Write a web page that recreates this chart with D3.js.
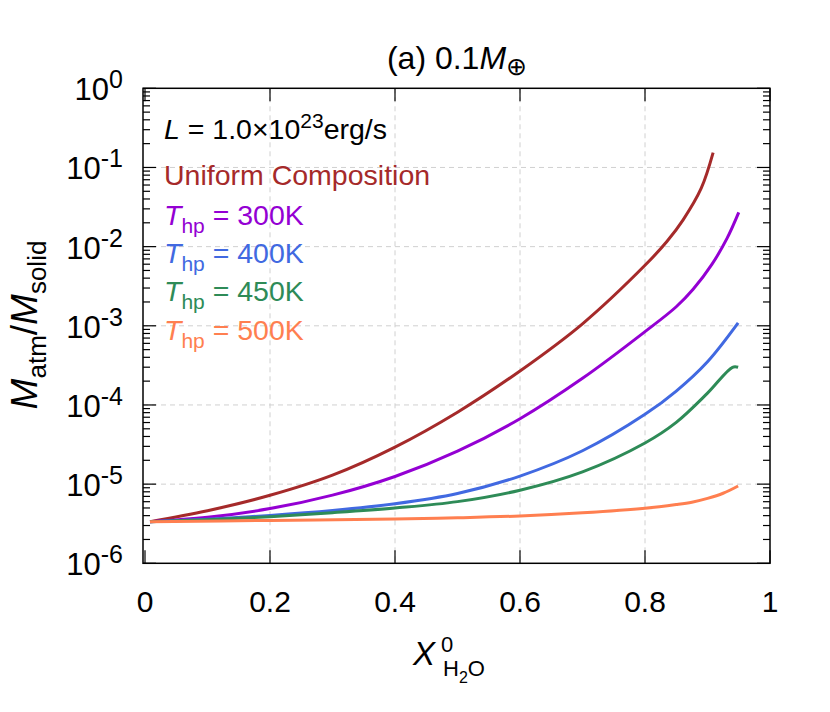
<!DOCTYPE html>
<html>
<head>
<meta charset="utf-8">
<script src="https://cdn.jsdelivr.net/npm/d3@7"></script>
<style>
  body { margin: 0; background: #fff; }
  text { font-family: "Liberation Sans", Arial, Helvetica, sans-serif; }
</style>
</head>
<body>
<div class="chart"></div>
<script>
// data (x = X_H2O^0, y = M_atm/M_solid)
let uniformX = [0.008, 0.1, 0.2, 0.3, 0.4, 0.5, 0.6, 0.7, 0.8, 0.835, 0.861, 0.89, 0.909]
let uniformY = [3.36e-6, 4.61e-6, 7.23e-6, 1.30e-5, 2.94e-5, 8.11e-5, 2.69e-4, 1.06e-3, 5.81e-3, 1.16e-2, 2.18e-2, 5.47e-2, 0.154]

let t300X = [0.008, 0.1, 0.2, 0.3, 0.4, 0.5, 0.6, 0.7, 0.8, 0.85, 0.877, 0.907, 0.931, 0.95]
let t300Y = [3.36e-6, 3.81e-6, 4.91e-6, 7.26e-6, 1.25e-5, 2.61e-5, 6.70e-5, 2.17e-4, 8.43e-4, 1.74e-3, 2.89e-3, 5.97e-3, 1.26e-2, 2.71e-2]

let t400X = [0.008, 0.1, 0.2, 0.3, 0.4, 0.5, 0.6, 0.7, 0.8, 0.85, 0.9, 0.949]
let t400Y = [3.36e-6, 3.61e-6, 4.03e-6, 4.65e-6, 5.65e-6, 7.62e-6, 1.265e-5, 2.64e-5, 7.62e-5, 1.50e-4, 3.52e-4, 1.09e-3]

let t450X = [0.008, 0.1, 0.2, 0.3, 0.4, 0.5, 0.6, 0.7, 0.8, 0.85, 0.9, 0.94, 0.949]
let t450Y = [3.36e-6, 3.55e-6, 3.88e-6, 4.36e-6, 5.0e-6, 6.01e-6, 8.39e-6, 1.43e-5, 3.31e-5, 6.03e-5, 1.41e-4, 2.99e-4, 2.99e-4]

let t500X = [0.008, 0.2, 0.4, 0.5, 0.6, 0.7, 0.8, 0.85, 0.875, 0.9, 0.925, 0.949]
let t500Y = [3.36e-6, 3.48e-6, 3.63e-6, 3.76e-6, 3.96e-6, 4.34e-6, 4.95e-6, 5.52e-6, 5.92e-6, 6.61e-6, 7.67e-6, 9.48e-6]

let xTicks = [0, 0.2, 0.4, 0.6, 0.8, 1]
let xTickLabels = ["0", "0.2", "0.4", "0.6", "0.8", "1"]
let yExponents = [0, -1, -2, -3, -4, -5, -6]

let series = [
    { name: "Uniform Composition", color: "#a52a2a", xs: uniformX, ys: uniformY },
    { name: "300K", color: "#9400d3", xs: t300X, ys: t300Y },
    { name: "400K", color: "#4169e1", xs: t400X, ys: t400Y },
    { name: "450K", color: "#2e8b57", xs: t450X, ys: t450Y },
    { name: "500K", color: "#ff7f50", xs: t500X, ys: t500Y }
]

let W = 830, H = 712
let plotL = 143, plotR = 770, plotT = 88.3, plotB = 563.3

let svg = d3.select(".chart")
    .append("svg")
    .attr("width", W)
    .attr("height", H)

//scales
let x = d3.scaleLinear().domain([0, 1]).range([145, 770])
let y = d3.scaleLog().domain([1e-6, 1]).range([plotB, plotT])

// grid
let grid = svg.append("g")
    .attr("stroke", "#d0d0d0")
    .attr("stroke-width", 1)
    .attr("stroke-dasharray", "5,4")
xTicks.slice(1, -1).forEach(v => {
    grid.append("line").attr("x1", x(v)).attr("x2", x(v)).attr("y1", plotT).attr("y2", plotB)
})
yExponents.slice(1, -1).forEach(e => {
    grid.append("line").attr("x1", plotL).attr("x2", plotR).attr("y1", y(Math.pow(10, e))).attr("y2", y(Math.pow(10, e)))
})

// ticks
let ticks = svg.append("g").attr("stroke", "#000").attr("stroke-width", 1.2)
xTicks.forEach(v => {
    ticks.append("line").attr("x1", x(v)).attr("x2", x(v)).attr("y1", plotB).attr("y2", plotB - 13)
    ticks.append("line").attr("x1", x(v)).attr("x2", x(v)).attr("y1", plotT).attr("y2", plotT + 13)
})
yExponents.forEach(e => {
    let base = Math.pow(10, e)
    ticks.append("line").attr("x1", plotL).attr("x2", plotL + 13).attr("y1", y(base)).attr("y2", y(base))
    ticks.append("line").attr("x1", plotR).attr("x2", plotR - 13).attr("y1", y(base)).attr("y2", y(base))
    if (e < 0) {
        for (let m = 2; m <= 9; m++) {
            let v = base * m
            ticks.append("line").attr("x1", plotL).attr("x2", plotL + 7).attr("y1", y(v)).attr("y2", y(v))
            ticks.append("line").attr("x1", plotR).attr("x2", plotR - 7).attr("y1", y(v)).attr("y2", y(v))
        }
    }
})

// lines
let line = d3.line()
    .x(d => x(d[0]))
    .y(d => y(d[1]))
    .curve(d3.curveCatmullRom.alpha(0.5))

series.forEach(s => {
    svg.append("path")
        .attr("fill", "none")
        .attr("stroke", s.color)
        .attr("stroke-width", 3)
        .attr("stroke-linejoin", "round")
        .attr("d", line(s.xs.map((v, i) => [v, s.ys[i]])))
})

// frame
svg.append("rect")
    .attr("x", plotL).attr("y", plotT)
    .attr("width", plotR - plotL).attr("height", plotB - plotT)
    .attr("fill", "none").attr("stroke", "#000").attr("stroke-width", 1.5)

// tick labels
xTicks.forEach((v, i) => {
    svg.append("text")
        .attr("x", x(v)).attr("y", 612)
        .attr("text-anchor", "middle")
        .attr("font-size", 30)
        .text(xTickLabels[i])
})
yExponents.forEach(e => {
    let t = svg.append("text")
        .attr("x", 123).attr("y", y(Math.pow(10, e)) + 12)
        .attr("text-anchor", "end")
        .attr("font-size", 31)
    t.append("tspan").text("10")
    t.append("tspan").attr("dy", -12).attr("font-size", 25).text(String(e))
})

// title
let title = svg.append("text")
    .attr("x", 457).attr("y", 69)
    .attr("text-anchor", "middle")
    .attr("font-size", 32)
title.append("tspan").text("(a) 0.1")
title.append("tspan").attr("font-style", "italic").text("M")
title.append("tspan").attr("dy", 6).attr("font-size", 25).text("⊕")

// axis labels
let xl = svg.append("text")
    .attr("y", 665)
    .attr("font-size", 33)
xl.append("tspan").attr("x", 413).attr("font-style", "italic").text("X")
xl.append("tspan").attr("x", 441).attr("dy", -13).attr("font-size", 22).text("0")
xl.append("tspan").attr("x", 443).attr("dy", 24).attr("font-size", 22).text("H")
xl.append("tspan").attr("dy", 7).attr("font-size", 16).text("2")
xl.append("tspan").attr("dy", -7).attr("font-size", 22).text("O")

let yl = svg.append("text")
    .attr("transform", "translate(37,325) rotate(-90)")
    .attr("text-anchor", "middle")
    .attr("font-size", 37)
yl.append("tspan").attr("font-style", "italic").text("M")
yl.append("tspan").attr("dy", 9).attr("font-size", 26).text("atm")
yl.append("tspan").attr("dy", -9).text("/")
yl.append("tspan").attr("font-style", "italic").text("M")
yl.append("tspan").attr("dy", 9).attr("font-size", 26).text("solid")

// legend
let lx = 164
let fs = 28.5
let lt = svg.append("text").attr("x", lx).attr("y", 139).attr("font-size", fs)
lt.append("tspan").attr("font-style", "italic").text("L")
lt.append("tspan").text(" = 1.0×10")
lt.append("tspan").attr("dy", -11).attr("font-size", 21).text("23")
lt.append("tspan").attr("dy", 11).text("erg/s")

svg.append("text").attr("x", lx).attr("y", 185).attr("font-size", fs)
    .attr("fill", series[0].color).text(series[0].name)

series.slice(1).forEach((s, i) => {
    let t = svg.append("text").attr("x", lx).attr("y", 225 + i * 38.2)
        .attr("font-size", fs).attr("fill", s.color)
    t.append("tspan").attr("font-style", "italic").text("T")
    t.append("tspan").attr("dy", 8).attr("font-size", 21).text("hp")
    t.append("tspan").attr("dy", -8).text(" = " + s.name)
})
</script>
</body>
</html>
